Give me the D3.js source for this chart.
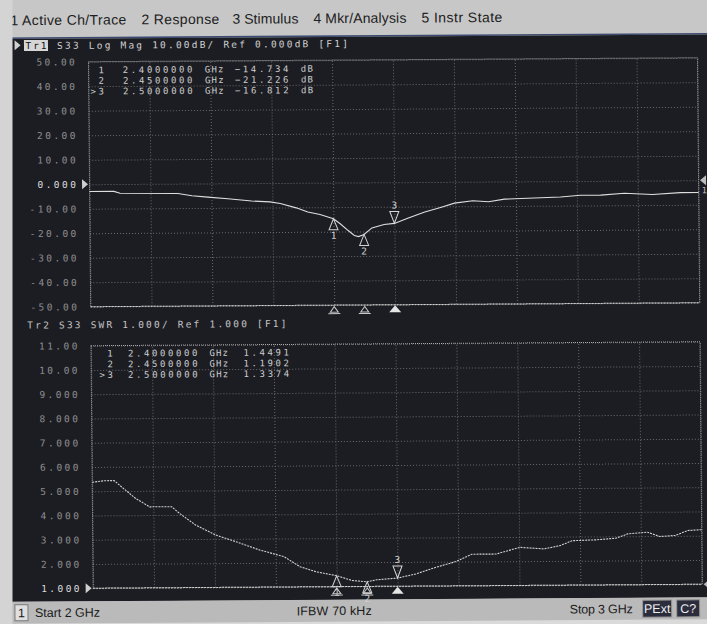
<!DOCTYPE html>
<html><head><meta charset="utf-8">
<script src="https://cdn.jsdelivr.net/npm/d3@7/dist/d3.min.js"></script>
<style>html,body{margin:0;padding:0;background:#d8d8d8;overflow:hidden}</style>
</head><body>
<svg id="chart" width="707" height="624"></svg>
<script>
// ---------------- data ----------------
const menuItems = ["1 Active Ch/Trace", "2 Response", "3 Stimulus", "4 Mkr/Analysis", "5 Instr State"];
const trace1Name = "Tr1";
const trace1Header = "S33 Log Mag 10.00dB/ Ref 0.000dB [F1]";
const trace2Header = "Tr2 S33 SWR 1.000/ Ref 1.000 [F1]";

const freqDB = [2.000, 2.040, 2.050, 2.145, 2.168, 2.194, 2.227, 2.266, 2.296, 2.313, 2.339, 2.358, 2.378, 2.400,
  2.411, 2.424, 2.434, 2.441, 2.450, 2.463, 2.483, 2.500, 2.523, 2.550, 2.576, 2.599, 2.629, 2.655, 2.681,
  2.773, 2.806, 2.839, 2.878, 2.924, 2.970, 3.000];
const s33dB = [-3.0, -3.0, -3.8, -4.0, -5.0, -5.6, -6.3, -7.3, -7.7, -8.4, -10.2, -11.9, -13.0, -14.734,
  -16.8, -19.6, -21.6, -22.1, -21.226, -18.6, -17.2, -16.812, -14.6, -12.2, -10.4, -8.7, -7.8, -8.2, -7.2,
  -6.5, -5.8, -5.8, -5.1, -5.7, -5.0, -5.0];

const freqSWR = [2.000, 2.021, 2.036, 2.051, 2.071, 2.094, 2.130, 2.143, 2.169, 2.202, 2.235, 2.274, 2.314, 2.340,
  2.366, 2.400, 2.425, 2.450, 2.465, 2.500, 2.530, 2.563, 2.596, 2.622, 2.662, 2.701, 2.741, 2.767, 2.787,
  2.826, 2.859, 2.879, 2.911, 2.931, 2.957, 2.977, 3.000];
const s33SWR = [5.37, 5.43, 5.43, 5.11, 4.69, 4.34, 4.34, 4.06, 3.58, 3.16, 2.88, 2.53, 2.25, 1.83,
  1.62, 1.4491, 1.25, 1.1902, 1.27, 1.3374, 1.50, 1.77, 2.00, 2.30, 2.30, 2.57, 2.50, 2.63, 2.83,
  2.86, 2.92, 3.10, 3.16, 2.98, 3.02, 3.22, 3.25];

const dbTicks = [50, 40, 30, 20, 10, 0, -10, -20, -30, -40, -50];
const dbTickLabels = ["50.00", "40.00", "30.00", "20.00", "10.00", "0.000", "-10.00", "-20.00", "-30.00", "-40.00", "-50.00"];
const swrTicks = [11, 10, 9, 8, 7, 6, 5, 4, 3, 2, 1];
const swrTickLabels = ["11.00", "10.00", "9.000", "8.000", "7.000", "6.000", "5.000", "4.000", "3.000", "2.000", "1.000"];

const markerNames = ["1", "2", ">3"];
const markerFreq = [2.40, 2.45, 2.50];
const markerFreqLabels = ["2.4000000", "2.4500000", "2.5000000"];
const markerDB = [-14.734, -21.226, -16.812];
const markerSWR = [1.4491, 1.1902, 1.3374];
const activeMarker = 2;

const statusStart = "Start 2 GHz", statusIFBW = "IFBW 70 kHz", statusStop = "Stop 3 GHz";

// ---------------- drawing ----------------
const W = 707, H = 624;
const mono = "'DejaVu Sans Mono','Liberation Mono',monospace";
const sans = "'Liberation Sans','DejaVu Sans',sans-serif";
const svg = d3.select("#chart");
svg.append("rect").attr("width", W).attr("height", H).attr("fill", "#dadada");

// slight scan skew of the whole screen
const g = svg.append("g").attr("transform", "matrix(1,-0.0065,0.009,1,-2.808,2.2945)");

// menu bar
g.append("rect").attr("x", -30).attr("y", -30).attr("width", 780).attr("height", 66).attr("fill", "#c7c7c7");
const menuX = [13, 144, 235, 316, 424], menuW = [116, 78, 66, 93, 81];
g.selectAll("text.menu").data(menuItems).join("text").attr("class", "menu")
  .attr("x", (d, i) => menuX[i]).attr("y", 23).attr("textLength", (d, i) => menuW[i]).attr("lengthAdjust", "spacing")
  .attr("font-family", sans).attr("font-size", 14).attr("fill", "#202020").text(d => d);
g.append("line").attr("x1", -30).attr("x2", 760).attr("y1", 36).attr("y2", 36).attr("stroke", "#3b4a70").attr("stroke-width", 1.6);

// dark panel + status bar
g.append("rect").attr("x", -30).attr("y", 36.8).attr("width", 780).attr("height", 563).attr("fill", "#1c1d23");
g.append("rect").attr("x", -30).attr("y", 599.5).attr("width", 780).attr("height", 22).attr("fill", "#bababa");

const xL = 90.7, xR = 699.7;
const x = d3.scaleLinear().domain([2, 3]).range([xL, xR]);
const y1 = d3.scaleLinear().domain([-50, 50]).range([305, 60]);
const y2 = d3.scaleLinear().domain([1, 11]).range([586.5, 344]);

const FS = 9.5;   // small fixed-pitch VNA font
function panel(yS, ticks, labels, refVal, top, bottom) {
  g.append("g").attr("transform", `translate(${xL},0)`)
    .call(d3.axisLeft(yS).tickValues(ticks).tickSize(-(xR - xL)).tickFormat(""))
    .call(s => s.select(".domain").remove())
    .call(s => s.selectAll("line").attr("stroke", "#6a6a6a").attr("stroke-dasharray", "1,2"));
  g.append("g").attr("transform", `translate(0,${bottom})`)
    .call(d3.axisBottom(x).ticks(10).tickSize(-(bottom - top)).tickFormat(""))
    .call(s => s.select(".domain").remove())
    .call(s => s.selectAll("line").attr("stroke", "#6a6a6a").attr("stroke-dasharray", "1,2"));
  g.append("rect").attr("x", xL).attr("y", top).attr("width", xR - xL).attr("height", bottom - top)
    .attr("fill", "none").attr("stroke", "#a8a8a8").attr("stroke-dasharray", "1,1");
  g.append("line").attr("x1", xL).attr("x2", xR).attr("y1", bottom).attr("y2", bottom)
    .attr("stroke", "#cfcfcf").attr("stroke-dasharray", "2,1");
  g.append("g").attr("transform", "translate(79.5,0)")
    .call(d3.axisLeft(yS).tickValues(ticks).tickSize(0).tickPadding(0).tickFormat((d, i) => labels[i]))
    .call(s => s.select(".domain").remove())
    .attr("font-family", mono).attr("font-size", FS)
    .call(s => s.selectAll("text").attr("fill", d => d === refVal ? "#dadada" : "#8e8e8e").attr("letter-spacing", "2.45px"));
  const ry = yS(refVal);
  g.append("path").attr("d", `M${xL - 1.5},${ry}L${xL - 7.5},${ry - 5}L${xL - 7.5},${ry + 5}Z`).attr("fill", "#cfcfcf");
  g.append("path").attr("d", `M${xR + 1.5},${ry}L${xR + 7.5},${ry - 5}L${xR + 7.5},${ry + 5}Z`).attr("fill", "#bdbdbd");
}

panel(y1, dbTicks, dbTickLabels, 0, 60, 305);
panel(y2, swrTicks, swrTickLabels, 1, 344, 586.5);
g.append("text").attr("x", xR + 3).attr("y", y1(0) + 13).attr("font-family", mono).attr("font-size", 8.5).attr("fill", "#bdbdbd").text("1");

// traces
const line1 = d3.line().x(d => x(d[0])).y(d => y1(d[1]));
const line2 = d3.line().x(d => x(d[0])).y(d => y2(d[1]));
g.append("path").attr("d", line1(d3.zip(freqDB, s33dB))).attr("fill", "none").attr("stroke", "#dedede").attr("stroke-width", 1.1);
g.append("path").attr("d", line2(d3.zip(freqSWR, s33SWR))).attr("fill", "none").attr("stroke", "#d2d2d2").attr("stroke-width", 1.1).attr("stroke-dasharray", "2,1");

// markers
function markers(yS, vals, bottom) {
  markerFreq.forEach((f, i) => {
    const px = x(f), py = yS(vals[i]);
    if (i === activeMarker) {
      g.append("path").attr("d", `M${px},${py}L${px - 4.5},${py - 12}L${px + 4.5},${py - 12}Z`)
        .attr("fill", "none").attr("stroke", "#d8d8d8");
      g.append("text").attr("x", px).attr("y", py - 15).attr("text-anchor", "middle")
        .attr("font-family", mono).attr("font-size", FS).attr("fill", "#d8d8d8").text(String(i + 1));
      g.append("path").attr("d", `M${px},${bottom + 0.5}L${px - 6},${bottom + 7.5}L${px + 6},${bottom + 7.5}Z`).attr("fill", "#e4e4e4");
    } else {
      g.append("path").attr("d", `M${px},${py}L${px - 4.5},${py + 11}L${px + 4.5},${py + 11}Z`)
        .attr("fill", "none").attr("stroke", "#d0d0d0");
      g.append("text").attr("x", px).attr("y", py + 20).attr("text-anchor", "middle")
        .attr("font-family", mono).attr("font-size", FS).attr("fill", "#d0d0d0").text(String(i + 1));
      g.append("path").attr("d", `M${px},${bottom + 1.5}L${px - 4},${bottom + 7}L${px + 4},${bottom + 7}Z`)
        .attr("fill", "none").attr("stroke", "#c8c8c8");
      g.append("line").attr("x1", px - 6).attr("x2", px + 6).attr("y1", bottom + 8.5).attr("y2", bottom + 8.5).attr("stroke", "#c8c8c8");
    }
  });
}
markers(y1, markerDB, 305);
markers(y2, markerSWR, 586.5);

// headers
g.append("path").attr("d", "M17,38L23,43L17,48Z").attr("fill", "#d0d0d0");
g.append("rect").attr("x", 26.4).attr("y", 38).attr("width", 24).attr("height", 11).attr("fill", "#d6d6d6");
g.append("text").attr("x", 28).attr("y", 47).attr("font-family", mono).attr("font-size", FS).attr("letter-spacing", "1.8px")
  .attr("fill", "#111").text(trace1Name);
g.append("text").attr("x", 59.5).attr("y", 47).attr("font-family", mono).attr("font-size", FS).attr("letter-spacing", "2.2px")
  .attr("fill", "#cfcfcf").text(trace1Header);
g.append("text").attr("x", 27.2).attr("y", 326.5).attr("font-family", mono).attr("font-size", FS).attr("letter-spacing", "2.2px")
  .attr("fill", "#c4c4c4").text(trace2Header);

// marker tables
const fmtDB = d3.format(".3f"), fmtSWR = d3.format(".4f");
function table(rowsY, cols, vals, fmt, unit) {
  markerNames.forEach((n, i) => {
    const ty = rowsY[i];
    const t = (xx, s, anchor, ls) => g.append("text").attr("x", xx).attr("y", ty).attr("text-anchor", anchor || "start")
      .attr("font-family", mono).attr("font-size", 9).attr("letter-spacing", (ls || 2.6) + "px").attr("fill", "#cdcdcd").text(s);
    t(cols[0], n, "end");
    t(cols[1], markerFreqLabels[i]);
    t(cols[2], "GHz", "start", 1.2);
    t(cols[3], fmt(vals[i]));
    if (unit) t(cols[4], unit, "start", 1.2);
  });
}
table([71.5, 82.2, 92.9], [108.6, 125, 207, 237, 303], markerDB, fmtDB, "dB");
table([355, 365.7, 376.4], [115, 127.5, 209, 243], markerSWR, fmtSWR, null);

// status bar
g.append("rect").attr("x", 12.3).attr("y", 602.5).attr("width", 13).attr("height", 16).attr("fill", "#e0e0e0").attr("stroke", "#7a7a7a");
g.append("text").attr("x", 18.8).attr("y", 615).attr("text-anchor", "middle").attr("font-family", sans).attr("font-size", 12.5).attr("fill", "#1a1a1a").text("1");
[[statusStart, 32.3, 65], [statusIFBW, 294, 75], [statusStop, 567, 63]].forEach(([s, xx, w]) =>
  g.append("text").attr("x", xx).attr("y", 615).attr("textLength", w).attr("lengthAdjust", "spacing")
    .attr("font-family", sans).attr("font-size", 12.5).attr("fill", "#1a1a1a").text(s));
[["PExt", 640, 29], ["C?", 674, 23]].forEach(([s, xx, w]) => {
  g.append("rect").attr("x", xx).attr("y", 602).attr("width", w).attr("height", 17).attr("fill", "#2b2d3d").attr("stroke", "#9a9a9a");
  g.append("text").attr("x", xx + w / 2).attr("y", 615).attr("text-anchor", "middle").attr("font-family", sans)
    .attr("font-size", 12.5).attr("fill", "#f0f0f0").text(s);
});

// scan margin at the left edge (not skewed)
svg.append("rect").attr("x", 0).attr("y", 0).attr("width", 12.5).attr("height", H).attr("fill", "#d4d4d4");
</script>
</body></html>
